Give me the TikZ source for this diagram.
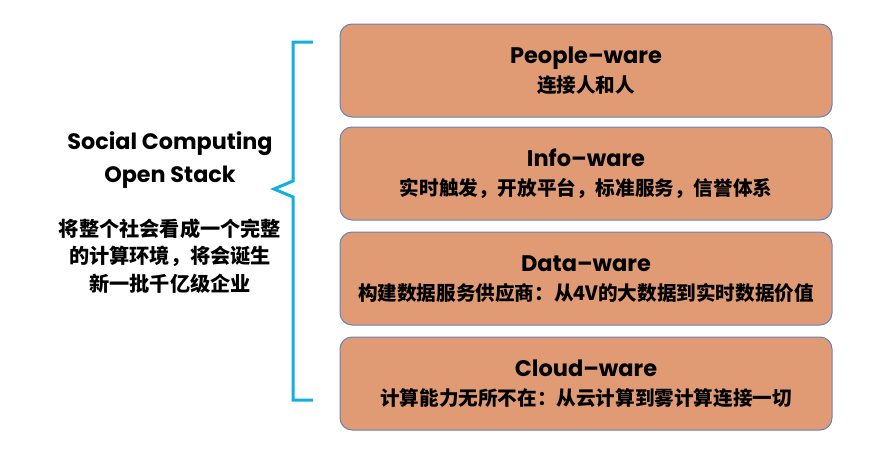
\documentclass[tikz,border=0pt]{standalone}
\usepackage{fontspec}
\setmainfont{Poppins}
\newfontfamily\cjk{Noto Sans CJK SC}
\usepackage{xcolor}
\usetikzlibrary{positioning}
\definecolor{warefill}{RGB}{224,155,116}
\definecolor{wareline}{RGB}{100,130,190}
\definecolor{bracecyan}{RGB}{20,175,225}

\begin{document}
\begin{tikzpicture}[x=1pt,y=-1pt,
    warebox/.style={draw=wareline,fill=warefill,line width=1pt,rounded corners=12pt,
        minimum width=492pt,minimum height=93pt,inner sep=0pt},
    waretitle/.style={anchor=base,font=\bfseries\fontsize{22.5}{24}\selectfont},
    waretext/.style={anchor=base,font=\cjk\bfseries\fontsize{19.6}{22}\selectfont}]
    \useasboundingbox (0,0) rectangle (880,450);

    % Layers of the stack
    \node[warebox] (people) at (586,70.5) {};
    \node[warebox] (info) at (586,173.5) {};
    \node[warebox] (data) at (586,278.5) {};
    \node[warebox] (cloud) at (586,383.5) {};

    \node[waretitle] (peopletitle) at ([yshift=7pt]people.center) {People–ware};
    \node[waretext] (peopletext) at ([yshift=-22pt]people.center) {连接人和人};
    \node[waretitle] (infotitle) at ([yshift=7pt]info.center) {Info–ware};
    \node[waretext] (infotext) at ([yshift=-22pt]info.center) {实时触发，开放平台，标准服务，信誉体系};
    \node[waretitle] (datatitle) at ([yshift=7pt]data.center) {Data–ware};
    \node[waretext] (datatext) at ([yshift=-22pt]data.center) {构建数据服务供应商：从4V的大数据到实时数据价值};
    \node[waretitle] (cloudtitle) at ([yshift=7pt]cloud.center) {Cloud–ware};
    \node[waretext] (cloudtext) at ([yshift=-22pt]cloud.center) {计算能力无所不在：从云计算到雾计算连接一切};

    % Brace
    \coordinate (bracetop) at (313,42);
    \coordinate (bracetip) at (274,189);
    \coordinate (bracebot) at (313,400);
    \draw[bracecyan,line width=3pt] (bracetop) -- (293,42) -- (293,181) -- (bracetip)
        -- (293,197) -- (293,400) -- (bracebot);

    \node[align=center,font=\bfseries\fontsize{22.3}{33}\selectfont] (stacktitle) at (170,160)
        {Social Computing\\Open Stack};
    \node[align=center,font=\cjk\bfseries\fontsize{20.2}{27.5}\selectfont] (stacknote) at (170,256)
        {将整个社会看成一个完整\\的计算环境，将会诞生\\新一批千亿级企业};
\end{tikzpicture}
\end{document}
